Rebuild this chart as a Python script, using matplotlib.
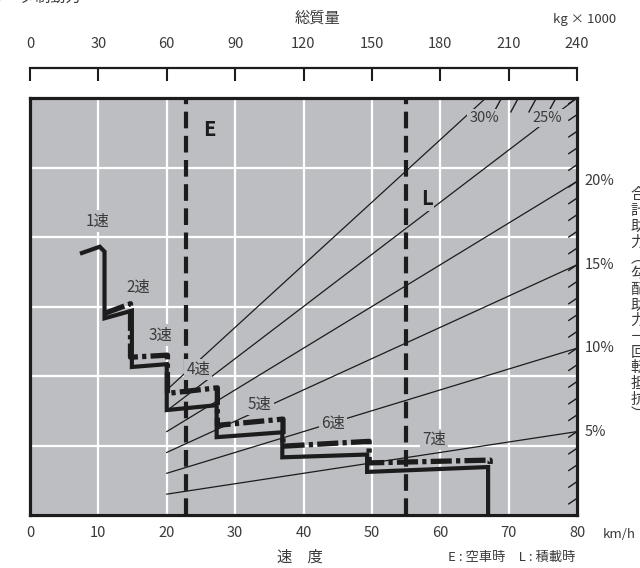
import matplotlib
matplotlib.use("Agg")
import matplotlib.pyplot as plt
import numpy as np

plt.rcParams['font.family'] = ['Noto Sans CJK JP', 'DejaVu Sans']

W, H = 640, 568

# axes values
speed_ticks = [0, 10, 20, 30, 40, 50, 60, 70, 80]
mass_ticks = [0, 30, 60, 90, 120, 150, 180, 210, 240]
force_grid = [0, 10, 20, 30, 40, 50, 60]

# total assist lines (%), drawn from mass 60 t
grade_lines = [5, 10, 15, 20, 25, 30]
grade_start_mass = 60
side_labels = [5, 10, 15, 20]
right_stubs = list(range(1, 26))
top_stubs = [26, 27, 28, 29]

# empty / loaded speed limits (km/h)
e_speed = 22.8
l_speed = 55.0

# solid gear curve
solid_v = [7.6, 10.2, 10.9, 10.9, 14.9, 14.9, 20.0, 20.0, 27.3, 27.3,
           36.9, 36.9, 49.3, 49.3, 67.0, 67.0]
solid_r = [37.7, 38.6, 37.9, 28.3, 29.4, 21.3, 21.7, 15.1, 15.8, 11.2,
           11.9, 8.3, 8.7, 6.2, 6.9, 0.0]

# dash-dot gear curve
dd_v = [10.9, 14.7, 14.7, 20.1, 20.1, 27.4, 27.4, 37.0, 37.0, 49.6, 49.6, 67.3, 67.3]
dd_r = [29.0, 30.4, 22.7, 23.0, 17.5, 18.3, 12.9, 13.8, 9.9, 10.6, 7.5, 7.9, 6.9]

gear_names = ['1速', '2速', '3速', '4速', '5速', '6速', '7速']
gear_lab_v = [9.9, 15.8, 19.0, 24.6, 33.6, 44.3, 59.1]
gear_lab_r = [42.3, 32.8, 25.9, 20.9, 15.9, 13.2, 10.9]

side_text = list('合計助力︵勾配助力－回転抵抗︶')

bg = '#bdbec2'
ink = '#1c1c1c'
txt = '#3a3a3a'


def fx(x):
    return x / W


def fy(y):
    return 1 - y / H


fig = plt.figure(figsize=(6.4, 5.68), dpi=100)
ax = fig.add_axes([fx(30), fy(515), 547 / W, 417 / H])
ax.set_facecolor(bg)
ax.set_xlim(0, 80)
ax.set_ylim(0, 60)
ax.set_xticks(speed_ticks)
ax.set_yticks(force_grid)
ax.set_yticklabels([])
ax.tick_params(axis='y', length=0)
ax.tick_params(axis='x', length=0, pad=8, labelsize=10.5, labelcolor=txt)
ax.grid(True, color='white', lw=1.6, zorder=0)
ax.set_axisbelow(True)
for s in ax.spines.values():
    s.set_linewidth(2.3)
    s.set_color(ink)

# grade lines: force = mass * pct / 100, mass = 3 * speed
for p in grade_lines:
    v0 = grade_start_mass / 3
    v1 = min(80, 60 * 100 / p / 3)
    vv = np.array([v0, v1])
    ax.plot(vv, 3 * vv * p / 100, color=ink, lw=0.9, zorder=2)

for p in right_stubs:
    r = 240 * p / 100
    ax.plot([78.8, 80], [r - 0.8, r], color=ink, lw=1.0, zorder=2)
for p in top_stubs:
    v = 6000 / p / 3
    ax.plot([v - 1.1, v], [58.0, 60], color=ink, lw=1.0, zorder=2)

# E / L limits
for v in (e_speed, l_speed):
    ax.plot([v, v], [0, 60], color=ink, lw=3.0, dashes=(4.0, 1.8),
            solid_capstyle='butt', zorder=3)

ax.plot(solid_v, solid_r, color=ink, lw=3.0, solid_joinstyle='miter', zorder=4)
ax.plot(dd_v, dd_r, color=ink, lw=3.8, dashes=(4.0, 0.8, 0.8, 0.8),
        dash_capstyle='butt', zorder=4)

box = dict(facecolor=bg, edgecolor='none', pad=1.5)
for name, v, r in zip(gear_names, gear_lab_v, gear_lab_r):
    ax.text(v, r, name, ha='center', va='center', fontsize=11, color=txt,
            bbox=box, zorder=5)

ax.text(26.2, 55.5, 'E', fontsize=14.5, fontweight='bold', color=ink,
        ha='center', va='center', bbox=box, zorder=5)
ax.text(58.0, 45.6, 'L', fontsize=14.5, fontweight='bold', color=ink,
        ha='center', va='center', bbox=box, zorder=5)
ax.text(66.4, 57.1, '30%', fontsize=10.5, color=txt, ha='center', va='center',
        bbox=box, zorder=5)
ax.text(75.7, 57.1, '25%', fontsize=10.5, color=txt, ha='center', va='center',
        bbox=box, zorder=5)

for p in side_labels:
    ax.text(81.1, 240 * p / 100, f'{p}%', fontsize=10.5, color=txt,
            ha='left', va='center', clip_on=False)

# top mass axis
axt = fig.add_axes([fx(30), fy(80), 547 / W, 12 / H])
axt.set_facecolor('none')
axt.set_xlim(0, 240)
axt.set_xticks(mass_ticks)
axt.set_yticks([])
for k, s in axt.spines.items():
    s.set_visible(k == 'top')
axt.spines['top'].set_linewidth(1.6)
axt.spines['top'].set_color(ink)
axt.tick_params(axis='x', top=True, bottom=False, labeltop=True,
                labelbottom=False, direction='in', length=9, width=1.5,
                color=ink, pad=12, labelsize=10.5, labelcolor=txt)

fig.text(fx(318), fy(18), '総質量', fontsize=11, color=txt, ha='center', va='center')
fig.text(fx(585), fy(19), 'kg × 1000', fontsize=9.5, color=txt, ha='center', va='center')
fig.text(fx(-25), fy(-3), 'リターダ制動力', fontsize=11, color=txt, ha='left', va='center')

fig.text(fx(603), fy(535), 'km/h', fontsize=9.5, color=txt, ha='left', va='center')
fig.text(fx(300), fy(557), '速　度', fontsize=11, color=txt, ha='center', va='center')
fig.text(fx(512), fy(557), 'E : 空車時　L : 積載時', fontsize=9.5, color=txt,
         ha='center', va='center')

for i, ch in enumerate(side_text):
    fig.text(fx(638), fy(195 + i * 15.7), ch, fontsize=11, color=txt,
             ha='center', va='center')

fig.savefig('out.png', dpi=100)
